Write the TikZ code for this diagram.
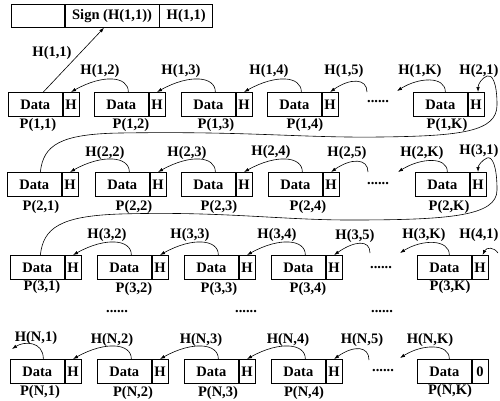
\documentclass[tikz,border=0pt]{standalone}
\usepackage{fontspec}
\setmainfont{Liberation Serif}
\usetikzlibrary{arrows.meta}
\newcommand\mkblock[4]{%
  \node[dbox] (d#1) at (#2,#3) {Data};
  \node[hbox] (h#1) at (d#1.east) {#4};}
\newcommand\harc[2]{%
  \draw[lnk] ([xshift=7pt]d#1.north) .. controls +(0,-16) and +(32,-18) .. (h#2.north);}
\begin{document}
\begin{tikzpicture}[x=1pt,y=-1pt,
  every node/.style={font=\fontsize{14.5}{17}\selectfont\bfseries, inner sep=0pt},
  dbox/.style={draw, line width=0.7pt, minimum width=54pt, minimum height=24pt, anchor=north west},
  hbox/.style={draw, line width=0.7pt, minimum width=16pt, minimum height=24pt, anchor=west},
  cell/.style={draw, line width=0.7pt, minimum height=23pt, anchor=north west},
  lnk/.style={line width=0.6pt, -{Latex[length=5pt,width=3.5pt]}}]
\useasboundingbox (0,0) rectangle (500,400);

% top record
\node[cell, minimum width=53pt] (c0) at (11,4) {};
\node[cell, minimum width=94pt, anchor=west] (sign) at (c0.east) {Sign (H(1,1))};
\node[cell, minimum width=53pt, anchor=west] (hc) at (sign.east) {H(1,1)};

% row 1
\mkblock{11}{8}{92}{H}
\mkblock{12}{94}{92}{H}
\mkblock{13}{181}{92}{H}
\mkblock{14}{267}{92}{H}
\mkblock{1K}{413}{92}{H}
% row 2
\mkblock{21}{7}{172}{H}
\mkblock{22}{95}{172}{H}
\mkblock{23}{181}{172}{H}
\mkblock{24}{268}{172}{H}
\mkblock{2K}{415}{172}{H}
% row 3
\mkblock{31}{10}{255}{H}
\mkblock{32}{97}{255}{H}
\mkblock{33}{184}{255}{H}
\mkblock{34}{271}{255}{H}
\mkblock{3K}{417}{255}{H}
% row N
\mkblock{N1}{10}{359}{H}
\mkblock{N2}{97}{359}{H}
\mkblock{N3}{184}{359}{H}
\mkblock{N4}{271}{359}{H}
\mkblock{NK}{417}{359}{0}

% P labels
\node (p11) at (38,125) {P(1,1)};
\node (p12) at (131,125) {P(1,2)};
\node (p13) at (216,125) {P(1,3)};
\node (p14) at (305,125) {P(1,4)};
\node (p1K) at (447,125) {P(1,K)};
\node (p21) at (41,207) {P(2,1)};
\node (p22) at (134,207) {P(2,2)};
\node (p23) at (219,207) {P(2,3)};
\node (p24) at (308,207) {P(2,4)};
\node (p2K) at (449,207) {P(2,K)};
\node (p31) at (42,287) {P(3,1)};
\node (p32) at (134,289) {P(3,2)};
\node (p33) at (219,289) {P(3,3)};
\node (p34) at (308,289) {P(3,4)};
\node (p3K) at (450,287) {P(3,K)};
\node (pN1) at (40,392) {P(N,1)};
\node (pN2) at (133,393) {P(N,2)};
\node (pN3) at (218,393) {P(N,3)};
\node (pN4) at (304,393) {P(N,4)};
\node (pNK) at (450,391) {P(N,K)};

% H labels
\node (l11) at (52,53) {H(1,1)};
\node (l12) at (100,71) {H(1,2)};
\node (l13) at (181,71) {H(1,3)};
\node (l14) at (269,71) {H(1,4)};
\node (l15) at (344,71) {H(1,5)};
\node (l1K) at (420,71) {H(1,K)};
\node (l21) at (479,71) {H(2,1)};
\node (l22) at (105,153) {H(2,2)};
\node (l23) at (187,153) {H(2,3)};
\node (l24) at (271,152) {H(2,4)};
\node (l25) at (347,153) {H(2,5)};
\node (l2K) at (422,153) {H(2,K)};
\node (l31) at (479,151) {H(3,1)};
\node (l32) at (107,235) {H(3,2)};
\node (l33) at (190,235) {H(3,3)};
\node (l34) at (277,235) {H(3,4)};
\node (l35) at (355,236) {H(3,5)};
\node (l3K) at (424,235) {H(3,K)};
\node (l41) at (479,235) {H(4,1)};
\node (lN1) at (36,338) {H(N,1)};
\node (lN2) at (112,340) {H(N,2)};
\node (lN3) at (201,340) {H(N,3)};
\node (lN4) at (288,340) {H(N,4)};
\node (lN5) at (362,340) {H(N,5)};
\node (lNK) at (430,340) {H(N,K)};

% dots
\node (dots1) at (378,102) {......};
\node (dots2) at (378,184) {......};
\node (dots3) at (381,268) {......};
\node (dotsN) at (383,371) {......};
\node (vd1) at (117,312) {......};
\node (vd2) at (246,312) {......};
\node (vd3) at (382,312) {......};

% top link
\draw[lnk] ([xshift=8pt]d11.north) -- ([xshift=-8pt]sign.south);

% inner arcs
\harc{12}{11}\harc{13}{12}\harc{14}{13}
\harc{22}{21}\harc{23}{22}\harc{24}{23}
\harc{32}{31}\harc{33}{32}\harc{34}{33}
\harc{N2}{N1}\harc{N3}{N2}\harc{N4}{N3}

% free ends
\coordinate (f15) at (367,92);
\coordinate (f1K) at (397,91);
\coordinate (f25) at (368,172);
\coordinate (f2K) at (398,172);
\coordinate (f35) at (370,253);
\coordinate (f3K) at (400,253);
\coordinate (fN5) at (369,360);
\coordinate (fNK) at (400,358);
\coordinate (fN1) at (12,349);
\coordinate (f41) at (498,253);

\draw[lnk] (f15) .. controls +(0,-14) and +(20,-14) .. (h14.north);
\draw[lnk] ([xshift=5pt]d1K.north) .. controls +(0,-16) and +(22,-14) .. (f1K);
\draw[lnk] (f25) .. controls +(0,-14) and +(20,-14) .. (h24.north);
\draw[lnk] ([xshift=5pt]d2K.north) .. controls +(0,-16) and +(22,-14) .. (f2K);
\draw[lnk] (f35) .. controls +(0,-14) and +(20,-14) .. (h34.north);
\draw[lnk] ([xshift=5pt]d3K.north) .. controls +(0,-16) and +(22,-14) .. (f3K);
\draw[lnk] (fN5) .. controls +(0,-14) and +(20,-14) .. (hN4.north);
\draw[lnk] ([xshift=5pt]dNK.north) .. controls +(0,-16) and +(22,-14) .. (fNK);
\draw[lnk] ([xshift=6pt]dN1.north) .. controls +(0,-18) and +(12,-8) .. (fN1);
\draw[lnk] (f41) .. controls +(-4,-6) and +(4,-8) .. ([xshift=2.5pt]h3K.north);

% wrap-around links
\draw[lnk] ([xshift=6pt]d21.north) .. controls +(3,-27) and (60,134) .. (120,133)
  .. controls (250,131) and (300,138) .. (380,137)
  .. controls (460,136) and (497,132) .. (497,105)
  .. controls (497,82) and (492,74) .. (487,76)
  .. controls (482,78) and (478,84) .. ([xshift=2pt]h1K.north);
\draw[lnk] ([xshift=3pt]d31.north) .. controls +(3,-27) and (60,216) .. (120,214)
  .. controls (220,211) and (280,220) .. (350,220)
  .. controls (450,220) and (497,216) .. (497,190)
  .. controls (497,165) and (492,156) .. (487,158)
  .. controls (482,160) and (478,166) .. (h2K.north);
\end{tikzpicture}
\end{document}
